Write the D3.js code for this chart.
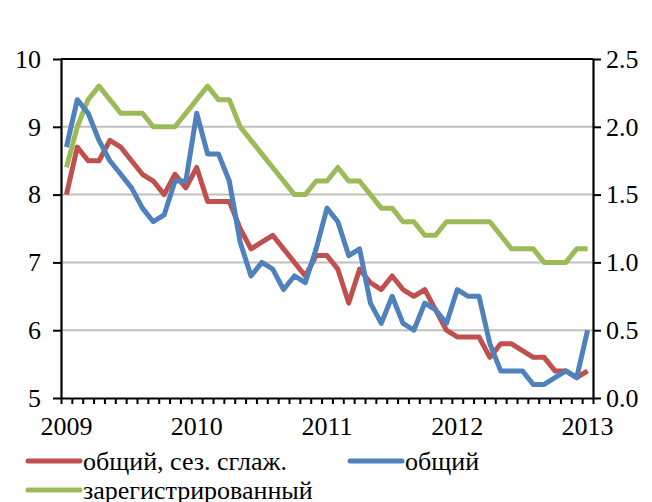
<!DOCTYPE html>
<html>
<head>
<meta charset="utf-8">
<script src="https://cdn.jsdelivr.net/npm/d3@7"></script>
<style>
  body { margin: 0; background: #fff; }
</style>
</head>
<body>
<div id="chart"></div>
<script>
// Monthly data, Jan 2009 .. Jan 2013
const yearLabels = ['2009', '2010', '2011', '2012', '2013'];

// общий, сез. сглаж. (left axis)
const totalSa = [
  8.0, 8.7, 8.5, 8.5, 8.8, 8.7, 8.5, 8.3, 8.2, 8.0, 8.3, 8.1,
  8.4, 7.9, 7.9, 7.9, 7.5, 7.2, 7.3, 7.4, 7.2, 7.0, 6.8, 7.1,
  7.1, 6.9, 6.4, 6.9, 6.7, 6.6, 6.8, 6.6, 6.5, 6.6, 6.3, 6.0,
  5.9, 5.9, 5.9, 5.6, 5.8, 5.8, 5.7, 5.6, 5.6, 5.4, 5.4, 5.3,
  5.4
];

// общий (left axis)
const total = [
  8.7, 9.4, 9.2, 8.8, 8.5, 8.3, 8.1, 7.8, 7.6, 7.7, 8.2, 8.2,
  9.2, 8.6, 8.6, 8.2, 7.3, 6.8, 7.0, 6.9, 6.6, 6.8, 6.7, 7.2,
  7.8, 7.6, 7.1, 7.2, 6.4, 6.1, 6.5, 6.1, 6.0, 6.4, 6.3, 6.1,
  6.6, 6.5, 6.5, 5.8, 5.4, 5.4, 5.4, 5.2, 5.2, 5.3, 5.4, 5.3,
  6.0
];

// зарегистрированный (right axis)
const registered = [
  1.7, 2.0, 2.2, 2.3, 2.2, 2.1, 2.1, 2.1, 2.0, 2.0, 2.0, 2.1,
  2.2, 2.3, 2.2, 2.2, 2.0, 1.9, 1.8, 1.7, 1.6, 1.5, 1.5, 1.6,
  1.6, 1.7, 1.6, 1.6, 1.5, 1.4, 1.4, 1.3, 1.3, 1.2, 1.2, 1.3,
  1.3, 1.3, 1.3, 1.3, 1.2, 1.1, 1.1, 1.1, 1.0, 1.0, 1.0, 1.1,
  1.1
];

const leftTicks = [5, 6, 7, 8, 9, 10];
const rightTicks = [0, 0.5, 1, 1.5, 2, 2.5];


/**
 * Setup
 */

const W = 652, H = 502;
const plot = { left: 61, right: 593, top: 59, bottom: 398 };
const FONT = 'Liberation Serif';
const FS = 26;
const months = d3.range(total.length);

const svg = d3.select('#chart')
              .append('svg')
              .attr('width', W)
              .attr('height', H)
              .attr('font-family', FONT);

const x = d3.scalePoint()
            .domain(months)
            .range([plot.left, plot.right])
            .padding(0.5);

// boundaries between months, for the small ticks
const xEdge = d3.scaleLinear()
                .domain([0, months.length])
                .range([plot.left, plot.right]);

const yLeft = d3.scaleLinear().domain([5, 10]).range([plot.bottom, plot.top]);
const yRight = d3.scaleLinear().domain([0, 2.5]).range([plot.bottom, plot.top]);


// Gridlines
const grid = svg.append('g');

grid.selectAll('line')
    .data(leftTicks.slice(1))
    .enter()
    .append('line')
    .attr('x1', plot.left)
    .attr('x2', plot.right)
    .attr('y1', d => yLeft(d))
    .attr('y2', d => yLeft(d))
    .attr('stroke', d => d === 10 ? '#000' : '#c0c0c0')
    .attr('stroke-width', 2);


// Axes
const styleAxis = g => {
  g.attr('font-family', FONT).attr('font-size', FS);
  g.selectAll('path.domain').attr('stroke', '#000').attr('stroke-width', 2.2);
  g.selectAll('.tick line').attr('stroke', '#000').attr('stroke-width', 2);
  g.selectAll('text').attr('fill', '#000');
};

svg.append('g')
   .attr('transform', `translate(${plot.left},0)`)
   .call(d3.axisLeft(yLeft).tickValues(leftTicks).tickSize(8).tickSizeOuter(0).tickPadding(12).tickFormat(d3.format('d')))
   .call(styleAxis);

svg.append('g')
   .attr('transform', `translate(${plot.right},0)`)
   .call(d3.axisRight(yRight).tickValues(rightTicks).tickSize(8).tickSizeOuter(0).tickPadding(5).tickFormat(d3.format('.1f')))
   .call(styleAxis);

svg.append('g')
   .attr('transform', `translate(0,${plot.bottom})`)
   .call(d3.axisBottom(xEdge).tickValues(d3.range(months.length + 1)).tickSize(6).tickSizeOuter(0).tickFormat(''))
   .call(styleAxis);

svg.append('g')
   .selectAll('text')
   .data(yearLabels)
   .enter()
   .append('text')
   .attr('x', (d, i) => x(i * 12))
   .attr('y', 435)
   .attr('text-anchor', 'middle')
   .attr('font-size', FS)
   .text(d => d);


// Lines
const series = [
  { name: 'общий, сез. сглаж.', values: totalSa, y: yLeft, color: '#c0504d' },
  { name: 'общий', values: total, y: yLeft, color: '#4f81bd' },
  { name: 'зарегистрированный', values: registered, y: yRight, color: '#9bbb59' },
];

const lines = svg.append('g');

// green first so red and blue sit on top of it
[series[2], series[0], series[1]].forEach(s => {
  const line = d3.line()
                 .x((d, i) => x(i))
                 .y(d => s.y(d));

  lines.append('path')
       .datum(s.values)
       .attr('d', line)
       .attr('fill', 'none')
       .attr('stroke', s.color)
       .attr('stroke-width', 5)
       .attr('stroke-linejoin', 'round');
});

grid.lower();


// Legend
const legendPos = [[28, 461], [350, 461], [28, 490]];

const lg = svg.append('g')
              .selectAll('g')
              .data(series)
              .enter()
              .append('g')
              .attr('transform', (d, i) => `translate(${legendPos[i][0]},${legendPos[i][1]})`);

lg.append('line')
  .attr('x1', 0)
  .attr('x2', 52)
  .attr('stroke', d => d.color)
  .attr('stroke-width', 5)
  .attr('stroke-linecap', 'round');

lg.append('text')
  .attr('x', 55)
  .attr('dy', '0.33em')
  .attr('font-size', FS)
  .text(d => d.name);
</script>
</body>
</html>
